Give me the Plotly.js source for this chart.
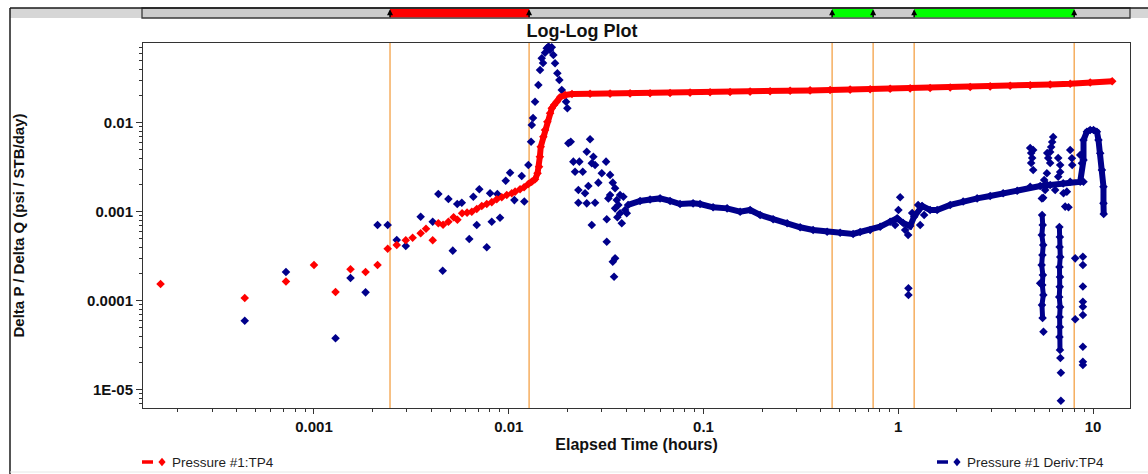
<!DOCTYPE html>
<html>
<head>
<meta charset="utf-8">
<script src="https://cdn.plot.ly/plotly-3.0.1.min.js"></script>
<style>
html,body{margin:0;padding:0;background:#ffffff;}
#chart{width:1148px;height:474px;}
</style>
</head>
<body>
<div id="chart"></div>
<script>
// ---------------- DATA ----------------
// Pressure #1:TP4 - scattered early-time points
const pressureTimes = [1.63e-4, 4.41e-4, 7.18e-4, 1.0e-3, 1.29e-3, 1.54e-3, 1.84e-3, 2.12e-3, 2.39e-3, 2.66e-3, 2.96e-3, 3.21e-3, 3.53e-3, 3.76e-3, 4.07e-3, 4.35e-3, 4.60e-3, 4.90e-3, 5.21e-3, 5.45e-3, 5.76e-3, 6.11e-3, 6.46e-3, 6.85e-3, 7.27e-3, 7.71e-3, 8.18e-3, 8.68e-3, 9.21e-3, 9.77e-3, 1.036e-2, 1.078e-2, 1.143e-2, 1.199e-2];
const pressureValues = [1.54e-4, 1.07e-4, 1.64e-4, 2.52e-4, 1.25e-4, 2.25e-4, 2.10e-4, 2.52e-4, 3.84e-4, 4.23e-4, 4.77e-4, 5.10e-4, 5.72e-4, 6.44e-4, 4.77e-4, 7.41e-4, 7.14e-4, 7.70e-4, 8.65e-4, 8.13e-4, 9.59e-4, 9.75e-4, 1.00e-3, 1.07e-3, 1.16e-3, 1.22e-3, 1.28e-3, 1.38e-3, 1.45e-3, 1.54e-3, 1.61e-3, 1.68e-3, 1.79e-3, 1.88e-3];
// Pressure #1:TP4 - dense rise and plateau
const pressureCurveTimes = [1.261e-2, 1.313e-2, 1.365e-2, 1.406e-2, 1.431e-2, 1.445e-2, 1.460e-2, 1.506e-2, 1.536e-2, 1.579e-2, 1.630e-2, 1.663e-2, 1.709e-2, 1.765e-2, 1.835e-2, 1.947e-2,
  2.113e-2, 2.616e-2, 3.314e-2, 4.198e-2, 5.317e-2, 6.735e-2, 8.531e-2, 0.1081, 0.1369, 0.1735, 0.2198, 0.2785, 0.3527, 0.4468, 0.5662, 0.7173, 0.9088, 1.151, 1.458, 1.848, 2.341, 2.965, 3.756, 4.758, 6.028, 7.637, 9.674, 12.55];
const pressureCurveValues = [2.05e-3, 2.17e-3, 2.31e-3, 2.70e-3, 3.20e-3, 4.15e-3, 5.37e-3, 6.96e-3, 8.28e-3, 1.026e-2, 1.275e-2, 1.451e-2, 1.581e-2, 1.722e-2, 1.930e-2, 2.047e-2,
  0.02102, 0.02113, 0.02123, 0.02134, 0.02145, 0.02156, 0.02179, 0.02196, 0.02213, 0.02236, 0.02259, 0.02283, 0.02307, 0.02331, 0.02355, 0.02380, 0.02405, 0.02430, 0.02455, 0.02487, 0.02519, 0.02559, 0.02598, 0.02639, 0.02687, 0.02736, 0.02823, 0.02920];

// Pressure #1 Deriv:TP4 - early scatter
const derivEarlyTimes = [4.41e-4, 7.18e-4, 1.29e-3, 1.54e-3, 1.84e-3, 2.12e-3, 2.39e-3, 2.66e-3, 2.96e-3, 3.53e-3, 4.07e-3, 4.35e-3, 4.58e-3, 4.90e-3, 5.16e-3, 5.44e-3, 5.74e-3, 6.27e-3, 6.58e-3, 6.85e-3, 7.06e-3, 7.71e-3, 8.02e-3, 8.18e-3, 8.74e-3, 9.02e-3, 9.65e-3, 1.016e-2, 1.069e-2, 1.166e-2, 1.202e-2, 1.261e-2];
const derivEarlyValues = [5.96e-5, 2.10e-4, 3.78e-5, 1.80e-4, 1.24e-4, 7.09e-4, 7.09e-4, 4.81e-4, 4.12e-4, 8.79e-4, 7.72e-4, 1.58e-3, 2.17e-4, 1.39e-3, 3.65e-4, 1.22e-3, 1.26e-3, 4.93e-4, 1.47e-3, 7.09e-4, 1.79e-3, 3.98e-4, 1.61e-3, 7.72e-4, 1.58e-3, 8.56e-4, 2.23e-3, 2.74e-3, 1.35e-3, 2.52e-3, 1.30e-3, 3.35e-3];
// Deriv - hump near 0.015 h
const derivPeakTimes = [1.302e-2, 1.313e-2, 1.333e-2, 1.365e-2, 1.419e-2, 1.448e-2, 1.477e-2, 1.500e-2, 1.536e-2, 1.567e-2, 1.601e-2, 1.630e-2, 1.663e-2, 1.695e-2, 1.729e-2, 1.777e-2, 1.819e-2, 1.872e-2, 1.969e-2, 2.000e-2];
const derivPeakValues = [6.12e-3, 9.42e-3, 1.13e-2, 1.722e-2, 2.652e-2, 3.91e-2, 5.29e-2, 4.69e-2, 6.12e-2, 6.86e-2, 7.18e-2, 6.56e-2, 7.03e-2, 5.76e-2, 4.65e-2, 3.59e-2, 3.02e-2, 2.33e-2, 1.722e-2, 1.451e-2];
// Deriv - scatter after the hump
const derivFallTimes = [2.023e-2, 2.081e-2, 2.147e-2, 2.190e-2, 2.278e-2, 2.278e-2, 2.305e-2, 2.399e-2, 2.465e-2, 2.515e-2, 2.515e-2, 2.563e-2, 2.616e-2, 2.669e-2, 2.669e-2, 2.720e-2, 2.775e-2, 2.775e-2, 2.885e-2, 3.004e-2, 3.160e-2, 3.186e-2, 3.186e-2, 3.248e-2, 3.314e-2, 3.314e-2, 3.421e-2, 3.421e-2, 3.474e-2, 3.516e-2, 3.516e-2, 3.516e-2, 3.587e-2, 3.612e-2, 3.655e-2, 3.730e-2, 3.730e-2, 3.805e-2, 3.878e-2, 3.957e-2, 4.037e-2];
const derivFallValues = [5.87e-3, 6.12e-3, 3.65e-3, 2.81e-3, 1.75e-3, 1.26e-3, 3.65e-3, 2.81e-3, 1.61e-3, 4.72e-3, 1.24e-3, 1.94e-3, 6.51e-3, 3.50e-3, 7.09e-4, 4.15e-3, 3.35e-3, 1.26e-3, 2.12e-3, 2.70e-3, 3.65e-3, 8.21e-4, 4.60e-4, 1.41e-3, 2.59e-3, 1.54e-3, 2.12e-3, 2.74e-4, 1.86e-4, 1.83e-3, 1.09e-3, 2.99e-4, 1.35e-3, 8.65e-4, 1.19e-3, 1.54e-3, 9.59e-4, 7.41e-4, 1.47e-3, 1.045e-3, 9.59e-4];
// Deriv - dense trend (middle time + final hump)
const derivTrendTimes = [4.099e-2, 4.725e-2, 5.317e-2, 5.984e-2, 6.735e-2, 7.580e-2, 8.843e-2, 9.605e-2, 0.1120, 0.1322, 0.1542, 0.1735, 0.1953, 0.2278, 0.2688, 0.3134, 0.3655, 0.4313, 0.5030, 0.5867, 0.6372, 0.7173, 0.8075, 0.9087, 0.9869, 1.060, 1.151, 1.207, 1.327, 1.458, 1.584, 1.848, 2.154, 2.542, 2.965, 3.457, 4.080, 4.758, 5.355, 6.028, 7.029, 8.597, 8.938, 8.938, 9.305, 9.674, 10.06, 10.47, 10.67, 10.89, 11.11, 11.32, 11.32, 11.35];
const derivTrendValues = [1.19e-3, 1.32e-3, 1.37e-3, 1.41e-3, 1.32e-3, 1.22e-3, 1.24e-3, 1.22e-3, 1.12e-3, 1.09e-3, 1.00e-3, 1.045e-3, 9.18e-4, 8.21e-4, 7.41e-4, 6.68e-4, 6.23e-4, 5.96e-4, 5.81e-4, 5.62e-4, 5.91e-4, 6.23e-4, 6.78e-4, 7.72e-4, 8.43e-4, 7.46e-4, 6.91e-4, 8.79e-4, 1.16e-3, 1.045e-3, 1.045e-3, 1.19e-3, 1.30e-3, 1.41e-3, 1.50e-3, 1.61e-3, 1.72e-3, 1.91e-3, 1.94e-3, 1.995e-3, 2.08e-3, 2.17e-3, 3.81e-3, 6.39e-3, 7.92e-3, 8.28e-3, 8.28e-3, 7.92e-3, 6.39e-3, 4.53e-3, 2.94e-3, 1.91e-3, 1.24e-3, 9.42e-4];
// Deriv - noise near 1 h and late-time blobs
const derivLateTimes = [0.964, 1.002, 1.023, 1.085, 1.124, 1.128, 1.128, 1.179, 1.265, 1.296, 1.358,
  4.758, 4.815, 4.872, 4.815, 4.930, 4.930, 5.464, 5.548, 5.615, 5.681, 5.798, 5.820, 5.820, 5.889, 6.028, 6.028, 6.100, 6.172, 6.246, 6.394, 6.627, 6.627, 6.785, 6.785, 7.055, 7.196, 7.341, 7.485, 7.637, 7.637, 7.792, 7.820, 8.597, 8.770, 8.938];
const derivLateValues = [7.09e-4, 1.045e-3, 1.45e-3, 6.23e-4, 5.47e-4, 1.38e-4, 1.16e-4, 9.67e-4, 1.19e-3, 7.09e-4, 9.18e-4,
  5.20e-3, 4.57e-3, 4.01e-3, 3.53e-3, 4.94e-3, 2.94e-3, 1.41e-3, 1.43e-3, 2.27e-3, 1.75e-3, 2.70e-3, 4.57e-3, 2.00e-3, 4.01e-3, 4.69e-3, 3.53e-3, 5.33e-3, 6.07e-3, 6.91e-3, 1.75e-3, 4.01e-3, 2.47e-3, 3.35e-3, 2.79e-3, 1.61e-3, 1.14e-3, 1.68e-3, 1.12e-3, 4.94e-3, 2.17e-3, 3.98e-3, 3.35e-3, 4.34e-3, 3.50e-3, 2.17e-3];
// Deriv - late low outliers
const derivOutlierTimes = [8.102, 8.874, 8.874, 8.874, 8.874, 8.874, 8.874, 8.102, 8.874, 8.874, 8.874, 5.355, 5.568, 6.80, 6.841, 6.841];
const derivOutlierValues = [2.99e-4, 3.12e-4, 2.52e-4, 1.44e-4, 9.74e-5, 8.56e-5, 6.91e-5, 6.18e-5, 3.04e-5, 2.06e-5, 1.89e-5, 1.57e-4, 4.48e-5, 2.27e-5, 1.55e-5, 7.52e-6];
// Deriv - two vertical columns of points
const derivColumnATimes = [5.48, 5.52, 5.46, 5.55, 5.50, 5.45, 5.53, 5.49, 5.56, 5.47, 5.51];
const derivColumnAValues = [9.18e-4, 7.09e-4, 5.47e-4, 4.22e-4, 3.26e-4, 2.52e-4, 1.94e-4, 1.50e-4, 1.16e-4, 8.95e-5, 6.39e-5];
const derivColumnBTimes = [6.72, 6.76, 6.74, 6.79, 6.73, 6.77, 6.75, 6.71, 6.78, 6.74, 6.76, 6.73, 6.77];
const derivColumnBValues = [6.73e-4, 5.20e-4, 4.01e-4, 3.10e-4, 2.39e-4, 1.85e-4, 1.43e-4, 1.10e-4, 8.50e-5, 6.56e-5, 5.06e-5, 3.91e-5, 2.79e-5];

// Period marker times (orange lines) and the highlighted periods of the top bar
const markerTimes = [2.457e-3, 1.272e-2, 0.4575, 0.743, 1.207, 8.006];
const periodStarts = [2.457e-3, 0.4575, 1.207];
const periodEnds = [1.272e-2, 0.743, 8.006];
const periodColors = ['#ff0000', '#00ff00', '#00ff00'];

// Tick labels
const xTickVals = [0.001, 0.01, 0.1, 1, 10];
const xTickText = ['0.001', '0.01', '0.1', '1', '10'];
const yTickVals = [1e-5, 1e-4, 1e-3, 1e-2];
const yTickText = ['1E-05', '0.0001', '0.001', '0.01'];

const seriesNames = ['Pressure #1:TP4', 'Pressure #1 Deriv:TP4'];
const seriesColors = ['#ff0000', '#00008b'];

// ---------------- LAYOUT ----------------
const W = 1148, H = 474;
const M = {l: 143, r: 18, t: 43, b: 66};
const PW = W - M.l - M.r, PH = H - M.t - M.b;
const fx = p => (p - M.l) / PW;          // pixel -> paper x
const fy = p => (H - M.b - p) / PH;      // pixel -> paper y
const FONT = 'Liberation Sans, Arial, sans-serif';

function minorLogTicks(lo, hi) {
  const out = [];
  for (let e = lo; e <= hi; e++) for (let m = 2; m <= 9; m++) out.push(m * Math.pow(10, e));
  return out;
}

const mk = (c) => ({symbol: 'diamond', size: 6.6, color: c, line: {width: 0}});
const red = seriesColors[0], blue = seriesColors[1];

const traces = [
  {x: derivEarlyTimes, y: derivEarlyValues, mode: 'markers', marker: mk(blue), name: seriesNames[1]},
  {x: derivPeakTimes, y: derivPeakValues, mode: 'markers', marker: mk(blue), name: seriesNames[1]},
  {x: derivFallTimes, y: derivFallValues, mode: 'markers', marker: mk(blue), name: seriesNames[1]},
  {x: derivTrendTimes, y: derivTrendValues, mode: 'lines+markers', line: {color: blue, width: 6}, marker: mk(blue), name: seriesNames[1]},
  {x: derivLateTimes, y: derivLateValues, mode: 'markers', marker: mk(blue), name: seriesNames[1]},
  {x: derivOutlierTimes, y: derivOutlierValues, mode: 'markers', marker: mk(blue), name: seriesNames[1]},
  {x: derivColumnATimes, y: derivColumnAValues, mode: 'lines+markers', line: {color: blue, width: 5}, marker: mk(blue), name: seriesNames[1]},
  {x: derivColumnBTimes, y: derivColumnBValues, mode: 'lines+markers', line: {color: blue, width: 5}, marker: mk(blue), name: seriesNames[1]},
  {x: pressureTimes, y: pressureValues, mode: 'markers', marker: mk(red), name: seriesNames[0]},
  {x: pressureCurveTimes, y: pressureCurveValues, mode: 'lines+markers', line: {color: red, width: 6}, marker: mk(red), name: seriesNames[0]}
].map(t => Object.assign(t, {type: 'scatter', showlegend: false, hoverinfo: 'x+y+name', cliponaxis: true}));

const shapes = [];
const annotations = [];

// frame: top strip and left border
shapes.push({type: 'rect', xref: 'paper', yref: 'paper', x0: fx(10), x1: fx(W), y0: fy(18), y1: fy(8), fillcolor: '#d6d6d6', line: {width: 0}, layer: 'above'});
shapes.push({type: 'rect', xref: 'paper', yref: 'paper', x0: fx(142), x1: fx(1130), y0: fy(18), y1: fy(8), fillcolor: '#cccccc', line: {color: '#3a3a3a', width: 1.3}, layer: 'above'});
shapes.push({type: 'line', xref: 'paper', yref: 'paper', x0: fx(10), x1: fx(W), y0: fy(8), y1: fy(8), line: {color: '#1a1a1a', width: 1.5}});
shapes.push({type: 'line', xref: 'paper', yref: 'paper', x0: fx(10), x1: fx(10), y0: fy(8), y1: fy(H), line: {color: '#1a1a1a', width: 1.5}});
shapes.push({type: 'line', xref: 'paper', yref: 'paper', x0: fx(10), x1: fx(W), y0: fy(472), y1: fy(472), line: {color: '#e6e6e6', width: 1}});

// highlighted periods in the top bar
for (let i = 0; i < periodStarts.length; i++) {
  shapes.push({type: 'rect', xref: 'x', yref: 'paper', x0: periodStarts[i], x1: periodEnds[i], y0: fy(17.3), y1: fy(9), fillcolor: periodColors[i], line: {width: 0}, layer: 'above'});
}
// orange period lines and the arrows in the bar
markerTimes.forEach(t => {
  shapes.push({type: 'line', xref: 'x', yref: 'paper', x0: t, x1: t, y0: 0, y1: 1, line: {color: '#f4a146', width: 1.3}, layer: 'below'});
  annotations.push({x: Math.log10(t), y: fy(9.3), xref: 'x', yref: 'paper', text: '', font: {size: 1}, borderpad: 0,
    showarrow: true, ax: 0, ay: 8.5, arrowhead: 2, arrowsize: 0.8, arrowwidth: 1.5, arrowcolor: '#000000'});
});

// custom legend (line dash + diamond + text)
function legendItem(x, color, label) {
  const y = 462;
  shapes.push({type: 'line', xref: 'paper', yref: 'paper', x0: fx(x), x1: fx(x + 11), y0: fy(y), y1: fy(y), line: {color: color, width: 3.5}});
  const cx = x + 20, h = 3.6, v = 4.2;
  shapes.push({type: 'path', xref: 'paper', yref: 'paper',
    path: `M ${fx(cx - h)} ${fy(y)} L ${fx(cx)} ${fy(y - v)} L ${fx(cx + h)} ${fy(y)} L ${fx(cx)} ${fy(y + v)} Z`,
    fillcolor: color, line: {width: 0}});
  annotations.push({x: fx(x + 28), y: fy(y), xref: 'paper', yref: 'paper', text: label, showarrow: false, xanchor: 'left', yanchor: 'middle',
    font: {family: FONT, size: 13.5, color: '#1e1e1e'}});
}
legendItem(142, red, seriesNames[0]);
legendItem(937, blue, seriesNames[1]);

const tickFont = {family: FONT, size: 15, color: '#111111', weight: 'bold'};

const layout = {
  width: W, height: H,
  margin: M,
  paper_bgcolor: '#ffffff', plot_bgcolor: '#ffffff',
  showlegend: false,
  title: {text: 'Log-Log Plot', font: {family: FONT, size: 18, color: '#111111', weight: 'bold'},
          x: fx(582), xref: 'paper', xanchor: 'center', y: 1 - 31 / H, yref: 'container', yanchor: 'middle'},
  xaxis: {
    type: 'log', range: [-3.878, 1.19], autorange: false,
    showgrid: false, zeroline: false, showline: true, mirror: true, linecolor: '#333333', linewidth: 1,
    ticks: 'outside', ticklen: 5, tickwidth: 1, tickcolor: '#333333',
    tickmode: 'array', tickvals: xTickVals, ticktext: xTickText, tickfont: tickFont,
    minor: {tickmode: 'array', tickvals: minorLogTicks(-4, 1), ticks: 'outside', ticklen: 3, tickwidth: 1, tickcolor: '#333333', showgrid: false},
    title: {text: 'Elapsed Time (hours)', font: {family: FONT, size: 16, color: '#111111', weight: 'bold'}, standoff: 4},
    automargin: false
  },
  yaxis: {
    type: 'log', range: [-5.206, -1.1045], autorange: false,
    showgrid: false, zeroline: false, showline: true, mirror: true, linecolor: '#333333', linewidth: 1,
    ticks: 'outside', ticklen: 6, tickwidth: 1, tickcolor: '#333333',
    tickmode: 'array', tickvals: yTickVals, ticktext: yTickText, tickfont: tickFont,
    minor: {tickmode: 'array', tickvals: minorLogTicks(-6, -2), ticks: 'outside', ticklen: 3, tickwidth: 1, tickcolor: '#333333', showgrid: false},
    title: {text: 'Delta P / Delta Q (psi / STB/day)', font: {family: FONT, size: 15, color: '#111111', weight: 'bold'}, standoff: 58},
    automargin: false
  },
  shapes: shapes,
  annotations: annotations
};

Plotly.newPlot('chart', traces, layout, {displayModeBar: false, staticPlot: true});
</script>
</body>
</html>
